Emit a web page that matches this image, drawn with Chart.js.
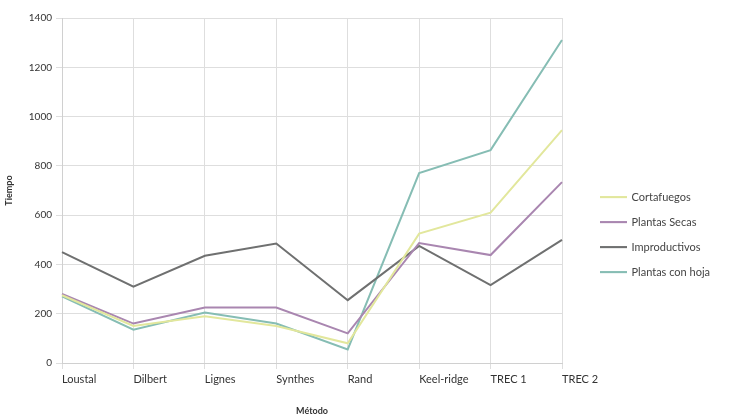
<!DOCTYPE html>
<html>
<head>
<meta charset="utf-8">
<script src="https://cdn.jsdelivr.net/npm/chart.js@4.4.1/dist/chart.umd.min.js"></script>
<style>
  html, body { margin: 0; padding: 0; background: #fff; }
  #wrap { width: 734px; height: 416px; }
</style>
</head>
<body>
<div id="wrap"><canvas id="c" width="734" height="416"></canvas></div>
<script>
// Categories along the x axis
const categories = ['Loustal', 'Dilbert', 'Lignes', 'Synthes', 'Rand', 'Keel-ridge', 'TREC 1', 'TREC 2'];

// Series values
const cortados      = [275, 150, 190, 150, 80, 525, 610, 945];
const plantasSecas  = [280, 160, 225, 225, 120, 487, 438, 734];
const improductivos = [450, 310, 435, 485, 255, 475, 316, 500];
const plantasHoja   = [270, 135, 205, 160, 55, 771, 864, 1311];

// Y axis ticks
const yTicks = [0, 200, 400, 600, 800, 1000, 1200, 1400];

const family = 'Lato, "DejaVu Sans", sans-serif';
const tickFont = { family, size: 10 };
const labelFont = { family, size: 11 };
const titleFont = { family, size: 9, weight: 'bold' };

// Give the right-hand legend a fixed width and start its items a bit in from its edge
const legendBox = {
  id: 'legendBox',
  beforeLayout(chart) {
    const lg = chart.legend;
    if (lg && !lg._fixedWidth) {
      const fit = lg.fit.bind(lg);
      lg.fit = function () { fit(); this.width = 172; };
      lg._fixedWidth = true;
    }
  },
  afterLayout(chart) {
    const lg = chart.legend;
    if (lg) { lg.left += 25; }
  }
};

new Chart(document.getElementById('c'), {
  type: 'line',
  data: {
    labels: categories,
    datasets: [
      { label: 'Cortafuegos', data: cortados, borderColor: '#e2e79c', backgroundColor: '#e2e79c' },
      { label: 'Plantas Secas', data: plantasSecas, borderColor: '#a986b0', backgroundColor: '#a986b0' },
      { label: 'Improductivos', data: improductivos, borderColor: '#6f7070', backgroundColor: '#6f7070' },
      { label: 'Plantas con hoja', data: plantasHoja, borderColor: '#86bdb4', backgroundColor: '#86bdb4' }
    ].map(d => Object.assign(d, { borderWidth: 2, pointRadius: 0, tension: 0, fill: false }))
  },
  plugins: [legendBox],
  options: {
    responsive: false,
    animation: false,
    layout: { padding: { top: 18, right: 0, left: 0, bottom: 0 } },
    plugins: {
      legend: {
        position: 'right',
        title: { display: true, text: ' ', padding: { top: 34, bottom: 0 }, font: { size: 1 } },
        labels: {
          boxWidth: 25, boxHeight: 0.1, padding: 14, color: '#444',
          font: labelFont
        }
      },
      tooltip: { enabled: false }
    },
    scales: {
      x: {
        offset: false,
        grid: { color: '#dedede', lineWidth: 1, tickLength: 6 },
        border: { color: '#d0d0d0' },
        ticks: { color: '#333', font: labelFont, align: 'start', maxRotation: 0, padding: 4 },
        title: { display: true, text: 'Método', color: '#333', font: titleFont, padding: { top: 15, bottom: 0 } }
      },
      y: {
        min: 0, max: 1400,
        afterBuildTicks: axis => { axis.ticks = yTicks.map(v => ({ value: v })); },
        grid: { color: '#dedede', lineWidth: 1, tickLength: 6 },
        border: { color: '#d0d0d0' },
        ticks: { color: '#333', font: tickFont, padding: 4, callback: v => String(v) },
        title: { display: true, text: 'Tiempo', color: '#333', font: titleFont, padding: { top: 4, bottom: 10 } }
      }
    }
  }
});
</script>
</body>
</html>
